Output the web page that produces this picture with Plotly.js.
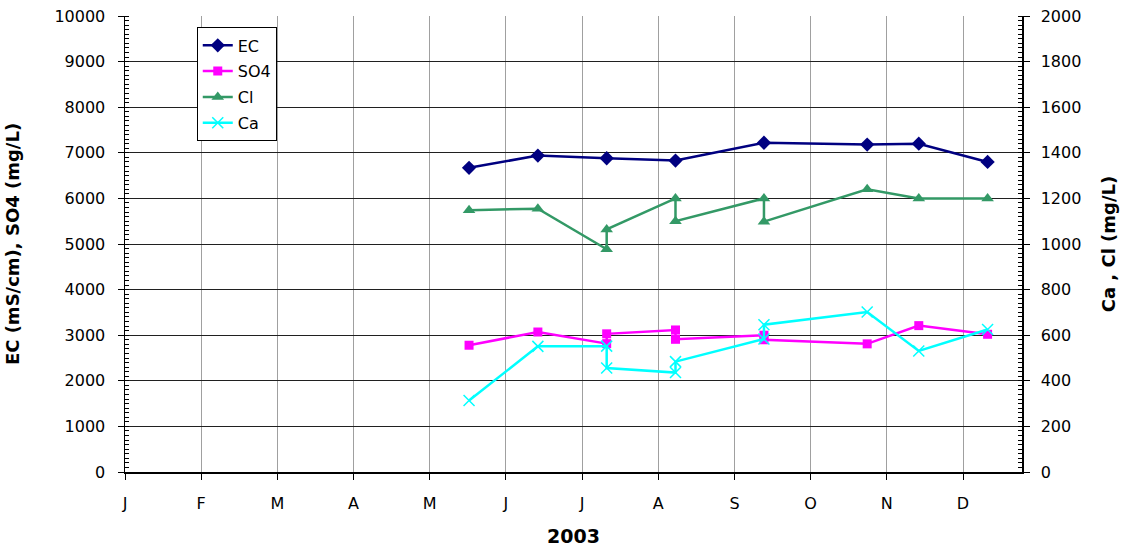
<!DOCTYPE html>
<html>
<head>
<meta charset="utf-8">
<script src="https://cdn.plot.ly/plotly-3.0.1.min.js"></script>
<style>
  html, body { margin: 0; padding: 0; background: #fff; }
  #chart { width: 1132px; height: 550px; }
</style>
</head>
<body>
<div id="chart"></div>
<script>
// ---- data ----
const ecDates = ['2003-05-21','2003-06-18','2003-07-16','2003-08-13','2003-09-18','2003-10-30','2003-11-20','2003-12-18'];
const ecValues = [6670, 6940, 6880, 6830, 7220, 7180, 7200, 6800];

const sampleDates = ['2003-05-21','2003-06-18','2003-07-16','2003-07-16','2003-08-13','2003-08-13','2003-09-18','2003-09-18','2003-10-30','2003-11-20','2003-12-18'];
const so4Values = [2780, 3070, 2815, 3030, 3115, 2910, 3000, 2900, 2810, 3210, 3020];
const clValues  = [1148, 1155, 977, 1064, 1200, 1100, 1200, 1098, 1240, 1200, 1200];
const caValues  = [314, 551, 552, 456, 436, 484, 583, 646, 702, 531, 625];

const monthTickDates = ['2003-01-01','2003-02-01','2003-03-04','2003-04-04','2003-05-05','2003-06-05','2003-07-06','2003-08-06','2003-09-06','2003-10-07','2003-11-07','2003-12-08'];
const monthTickLabels = ['J','F','M','A','M','J','J','A','S','O','N','D'];

const FONT = '"DejaVu Sans", Arial, sans-serif';

const traces = [
  { name: 'EC', x: ecDates, y: ecValues, yaxis: 'y', type: 'scatter', mode: 'lines+markers', legendgroup: 'a',
    line: { color: '#000080', width: 2.5 }, marker: { symbol: 'diamond', size: 11, color: '#000080' } },
  { name: 'SO4', x: sampleDates, y: so4Values, yaxis: 'y', type: 'scatter', mode: 'lines+markers', legendgroup: 'b',
    line: { color: '#FF00FF', width: 2.5 }, marker: { symbol: 'square', size: 9, color: '#FF00FF' } },
  { name: 'Cl', x: sampleDates, y: clValues, yaxis: 'y2', type: 'scatter', mode: 'lines+markers', legendgroup: 'c',
    line: { color: '#339966', width: 2.5 }, marker: { symbol: 'triangle-up', size: 11, color: '#339966' } },
  { name: 'Ca', x: sampleDates, y: caValues, yaxis: 'y2', type: 'scatter', mode: 'lines+markers', legendgroup: 'd',
    line: { color: '#00FFFF', width: 2.5 }, marker: { symbol: 'x-thin', size: 11, color: '#00FFFF', line: { color: '#00FFFF', width: 1.5 } } }
];

const layout = {
  width: 1132, height: 550,
  margin: { l: 125, r: 110, t: 16, b: 78 },
  paper_bgcolor: '#ffffff', plot_bgcolor: '#ffffff',
  font: { family: FONT, size: 16, color: '#000' },
  showlegend: true,
  legend: {
    x: 0.08, y: 0.975, xanchor: 'left', yanchor: 'top',
    bgcolor: '#ffffff', bordercolor: '#000', borderwidth: 1,
    font: { family: FONT, size: 16, color: '#000' },
    traceorder: 'grouped', tracegroupgap: 2, itemwidth: 30
  },
  xaxis: {
    type: 'date', range: ['2003-01-01', '2004-01-01'],
    tickmode: 'array', tickvals: monthTickDates, ticktext: monthTickLabels,
    showgrid: true, gridcolor: '#a0a0a0', gridwidth: 1,
    showline: true, linecolor: '#000', linewidth: 1.5,
    ticks: 'outside', ticklen: 6, tickcolor: '#000',
    ticklabelstandoff: 10,
    tickfont: { family: FONT, size: 16 },
    zeroline: false,
    title: { text: '<b>2003</b>', font: { family: FONT, size: 19 }, standoff: 18 }
  },
  yaxis: {
    range: [0, 10000], dtick: 1000, tick0: 0, tickformat: 'd',
    showgrid: true, gridcolor: '#202020', gridwidth: 1,
    showline: true, linecolor: '#000', linewidth: 1.5,
    ticks: 'outside', ticklen: 6, tickcolor: '#000',
    ticklabelstandoff: 9,
    tickfont: { family: FONT, size: 16 },
    minor: { ticks: 'inside', ticklen: 4, dtick: 100, tickcolor: '#000', showgrid: false },
    zeroline: false,
    title: { text: '<b>EC (mS/cm), SO4 (mg/L)</b>', font: { family: FONT, size: 18 }, standoff: 30 }
  },
  yaxis2: {
    overlaying: 'y', side: 'right', anchor: 'x',
    range: [0, 2000], dtick: 200, tick0: 0, tickformat: 'd',
    showgrid: false,
    showline: true, linecolor: '#000', linewidth: 1.5,
    ticks: 'outside', ticklen: 6, tickcolor: '#000',
    ticklabelstandoff: 8,
    tickfont: { family: FONT, size: 16 },
    minor: { ticks: 'inside', ticklen: 4, dtick: 20, tickcolor: '#000', showgrid: false },
    zeroline: false,
    title: { text: '<b>Ca , Cl (mg/L)</b>', font: { family: FONT, size: 18 }, standoff: 22 }
  }
};

Plotly.newPlot('chart', traces, layout, { displayModeBar: false, staticPlot: true });
</script>
</body>
</html>
